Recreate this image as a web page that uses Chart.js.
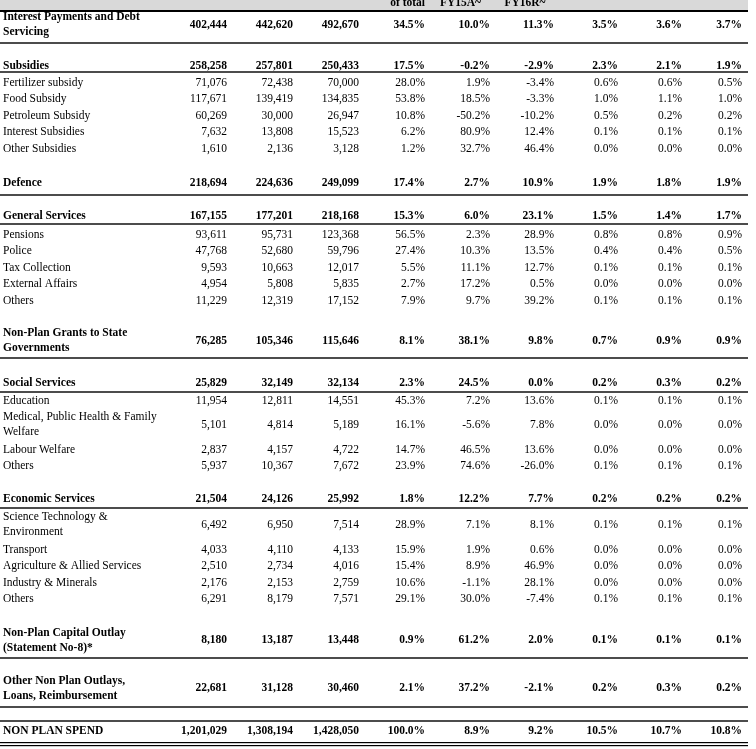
<!DOCTYPE html>
<html>
<head>
<meta charset="utf-8">
<script src="https://cdn.jsdelivr.net/npm/chart.js@4.4.1/dist/chart.umd.min.js"></script>
<style>
  html, body { margin: 0; padding: 0; background: #fff; }
  #wrap { width: 756px; height: 749px; }
</style>
</head>
<body>
<div id="wrap"><canvas id="spendTable" width="756" height="749"></canvas></div>
<script>
// ---- table data (Rs crore, growth and % of GDP) ----
const rowLabels = [
  ["Interest Payments and Debt", "Servicing"],
  "Subsidies", "Fertilizer subsidy", "Food Subsidy", "Petroleum Subsidy", "Interest Subsidies", "Other Subsidies",
  "Defence",
  "General Services", "Pensions", "Police", "Tax Collection", "External Affairs", "Others",
  ["Non-Plan Grants to State", "Governments"],
  "Social Services", "Education", ["Medical, Public Health & Family", "Welfare"], "Labour Welfare", "Others",
  "Economic Services", ["Science Technology &", "Environment"], "Transport", "Agriculture & Allied Services", "Industry & Minerals", "Others",
  ["Non-Plan Capital Outlay", "(Statement No-8)*"],
  ["Other Non Plan Outlays,", "Loans, Reimbursement"],
  "NON PLAN SPEND"
];

const headerLabels = ["", "", "", "of total", "FY15A~", "FY16R~", "", "", ""];

const fy14 = [402444, 258258, 71076, 117671, 60269, 7632, 1610, 218694, 167155, 93611, 47768, 9593, 4954, 11229,
  76285, 25829, 11954, 5101, 2837, 5937, 21504, 6492, 4033, 2510, 2176, 6291, 8180, 22681, 1201029];
const fy15 = [442620, 257801, 72438, 139419, 30000, 13808, 2136, 224636, 177201, 95731, 52680, 10663, 5808, 12319,
  105346, 32149, 12811, 4814, 4157, 10367, 24126, 6950, 4110, 2734, 2153, 8179, 13187, 31128, 1308194];
const fy16 = [492670, 250433, 70000, 134835, 26947, 15523, 3128, 249099, 218168, 123368, 59796, 12017, 5835, 17152,
  115646, 32134, 14551, 5189, 4722, 7672, 25992, 7514, 4133, 4016, 2759, 7571, 13448, 30460, 1428050];

const shareOfTotal = [34.5, 17.5, 28.0, 53.8, 10.8, 6.2, 1.2, 17.4, 15.3, 56.5, 27.4, 5.5, 2.7, 7.9,
  8.1, 2.3, 45.3, 16.1, 14.7, 23.9, 1.8, 28.9, 15.9, 15.4, 10.6, 29.1, 0.9, 2.1, 100.0];
const growthFY15 = [10.0, -0.2, 1.9, 18.5, -50.2, 80.9, 32.7, 2.7, 6.0, 2.3, 10.3, 11.1, 17.2, 9.7,
  38.1, 24.5, 7.2, -5.6, 46.5, 74.6, 12.2, 7.1, 1.9, 8.9, -1.1, 30.0, 61.2, 37.2, 8.9];
const growthFY16 = [11.3, -2.9, -3.4, -3.3, -10.2, 12.4, 46.4, 10.9, 23.1, 28.9, 13.5, 12.7, 0.5, 39.2,
  9.8, 0.0, 13.6, 7.8, 13.6, -26.0, 7.7, 8.1, 0.6, 46.9, 28.1, -7.4, 2.0, -2.1, 9.2];

const gdpFY14 = [3.5, 2.3, 0.6, 1.0, 0.5, 0.1, 0.0, 1.9, 1.5, 0.8, 0.4, 0.1, 0.0, 0.1,
  0.7, 0.2, 0.1, 0.0, 0.0, 0.1, 0.2, 0.1, 0.0, 0.0, 0.0, 0.1, 0.1, 0.2, 10.5];
const gdpFY15 = [3.6, 2.1, 0.6, 1.1, 0.2, 0.1, 0.0, 1.8, 1.4, 0.8, 0.4, 0.1, 0.0, 0.1,
  0.9, 0.3, 0.1, 0.0, 0.0, 0.1, 0.2, 0.1, 0.0, 0.0, 0.0, 0.1, 0.1, 0.3, 10.7];
const gdpFY16 = [3.7, 1.9, 0.5, 1.0, 0.2, 0.1, 0.0, 1.9, 1.7, 0.9, 0.5, 0.1, 0.0, 0.1,
  0.9, 0.2, 0.1, 0.0, 0.0, 0.1, 0.2, 0.1, 0.0, 0.0, 0.0, 0.1, 0.1, 0.2, 10.8];

// section rows are set in bold
const boldRows = [0, 1, 7, 8, 14, 15, 20, 26, 27, 28];

// ---- layout (table geometry, not data) ----
// column widths: label column + nine number columns
const colWidths = [164, 66, 66, 66, 66, 65, 64, 64, 64, 60];
const headerAlign = ["right", "right", "right", "right", "center", "center", "right", "right", "right"];
// [row index | 'head' | 'gap', height, rule below: 0 none, 1 single, 2 heavy, 3 double]
const layout = [
  ["head", 11, 2],
  [0, 28], ["gap", 4, 1],
  ["gap", 17], [1, 12, 1],
  ["gap", 2.5], [2, 16.5], [3, 16.5], [4, 16.5], [5, 16.5], [6, 16.5],
  ["gap", 17.5], [7, 16.5], ["gap", 4, 1],
  ["gap", 13], [8, 16, 1],
  ["gap", 2.5], [9, 16.5], [10, 16.5], [11, 16.5], [12, 16.5], [13, 16.5],
  ["gap", 15], [14, 34, 1],
  ["gap", 16], [15, 18, 1],
  [16, 17], [17, 31], ["gap", 1.5], [18, 16.5], [19, 16.5],
  ["gap", 15.5], [20, 18, 1],
  [21, 33.5], [22, 16.5], [23, 16.5], [24, 16.5], [25, 16.5],
  ["gap", 15.5], [26, 35, 1],
  ["gap", 12], [27, 37, 1],
  ["gap", 14, 1],
  [28, 21, 3]
];

const FONT = '"Liberation Serif", "Times New Roman", serif';
const FONT_SIZE = 11.5;

// column right edges / label x
let colRight = [];
let acc = 0;
for (let w of colWidths) { acc += w; colRight.push(acc); }
const tableRight = acc + 3;

// row centres and rule positions
let rowCenter = [];
let rules = [];
let headerRow = null;
let y = 0;
for (let item of layout) {
  let [key, h, rule] = item;
  if (key === "head") headerRow = { top: y, bottom: y + h };
  else if (key !== "gap") rowCenter[key] = y + h / 2;
  y += h;
  if (rule) rules.push({ y: y, style: rule });
}

function fmtNum(v) { return v.toLocaleString("en-US"); }
function fmtPct(v) { return v.toFixed(1) + "%"; }

const valueColumns = [
  { values: fy14, fmt: fmtNum },
  { values: fy15, fmt: fmtNum },
  { values: fy16, fmt: fmtNum },
  { values: shareOfTotal, fmt: fmtPct },
  { values: growthFY15, fmt: fmtPct },
  { values: growthFY16, fmt: fmtPct },
  { values: gdpFY14, fmt: fmtPct },
  { values: gdpFY15, fmt: fmtPct },
  { values: gdpFY16, fmt: fmtPct }
];

let datasets = [];
datasets.push({
  label: "labels",
  data: rowLabels.map((l, i) => ({ x: 3, y: rowCenter[i] })),
  texts: rowLabels,
  align: "left",
  pointRadius: 0
});
valueColumns.forEach((col, c) => {
  datasets.push({
    label: "col" + c,
    data: col.values.map((v, i) => ({ x: colRight[c + 1] - 3, y: rowCenter[i] })),
    texts: col.values.map(v => col.fmt(v)),
    align: "right",
    pointRadius: 0
  });
});
// header text sits mostly above the visible band, only its lower part shows
datasets.push({
  label: "header",
  data: headerLabels.map((t, c) => ({
    x: headerAlign[c] === "center" ? (colRight[c] + colRight[c + 1]) / 2 : colRight[c + 1] - 3,
    y: headerRow.bottom - 5
  })),
  texts: headerLabels,
  alignList: headerAlign,
  header: true,
  pointRadius: 0
});

const tablePlugin = {
  id: "tablePlugin",
  beforeDatasetsDraw(chart) {
    const ctx = chart.ctx;
    const xs = chart.scales.x, ys = chart.scales.y;
    const x0 = xs.getPixelForValue(0), x1 = xs.getPixelForValue(tableRight);
    ctx.save();
    ctx.fillStyle = "#d9d9d9";
    ctx.fillRect(x0, ys.getPixelForValue(headerRow.top), x1 - x0, ys.getPixelForValue(headerRow.bottom) - ys.getPixelForValue(headerRow.top));
    ctx.fillStyle = "#000";
    for (let r of rules) {
      let py = ys.getPixelForValue(r.y);
      if (r.style === 3) {
        ctx.fillRect(x0, py, x1 - x0, 1.2);
        ctx.fillRect(x0, py + 3, x1 - x0, 1.2);
      } else {
        let lw = r.style === 2 ? 2 : 1.4;
        ctx.fillRect(x0, py - lw / 2, x1 - x0, lw);
      }
    }
    ctx.restore();
  },
  afterDatasetsDraw(chart) {
    const ctx = chart.ctx;
    ctx.save();
    ctx.fillStyle = "#000";
    chart.data.datasets.forEach((ds, d) => {
      const meta = chart.getDatasetMeta(d);
      meta.data.forEach((el, i) => {
        let text = ds.texts[i];
        if (!text) return;
        let bold = ds.header || boldRows.includes(i);
        ctx.font = (bold ? "bold " : "") + FONT_SIZE + "px " + FONT;
        ctx.textAlign = ds.alignList ? ds.alignList[i] : ds.align;
        if (ds.header) {
          ctx.textBaseline = "alphabetic";
          ctx.fillText(text, el.x, el.y);
          return;
        }
        ctx.textBaseline = "middle";
        if (Array.isArray(text)) {
          let lh = 15;
          text.forEach((line, k) => {
            ctx.fillText(line, el.x, el.y + (k - (text.length - 1) / 2) * lh);
          });
        } else {
          ctx.fillText(text, el.x, el.y);
        }
      });
    });
    ctx.restore();
  }
};

new Chart(document.getElementById("spendTable"), {
  type: "scatter",
  data: { datasets: datasets },
  options: {
    responsive: false,
    devicePixelRatio: 1,
    animation: false,
    layout: { padding: 0 },
    plugins: { legend: { display: false }, tooltip: { enabled: false } },
    scales: {
      x: { type: "linear", min: 0, max: 756, display: false },
      y: { type: "linear", min: 0, max: 749, reverse: true, display: false }
    }
  },
  plugins: [tablePlugin]
});
</script>
</body>
</html>
